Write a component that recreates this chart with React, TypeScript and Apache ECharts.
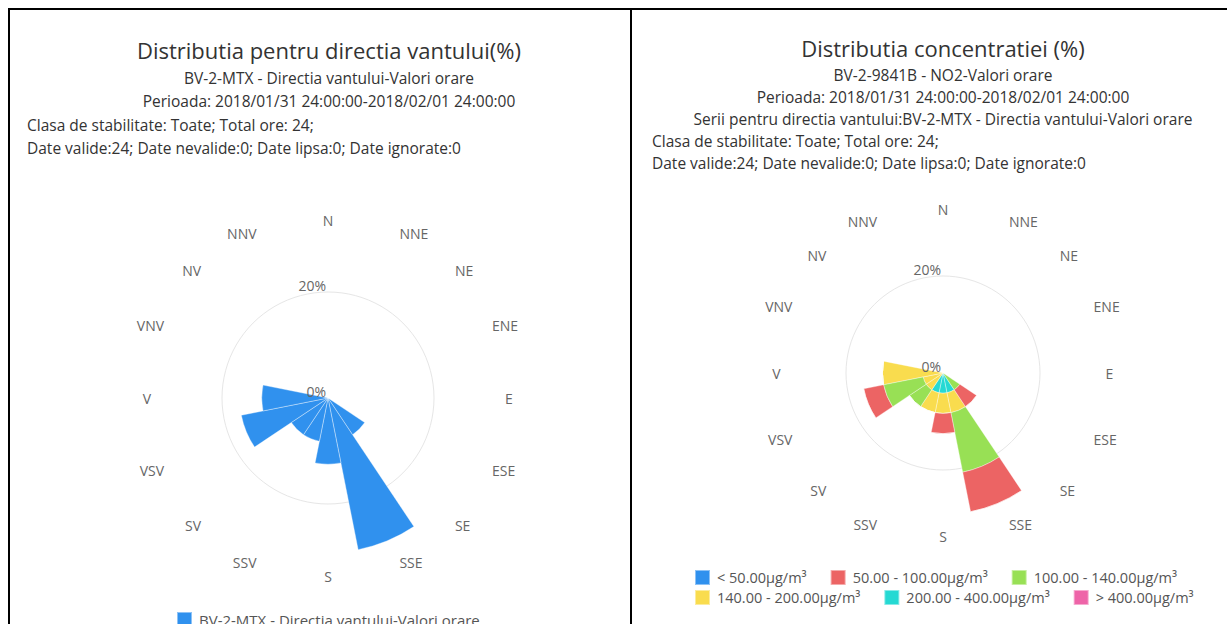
import React, { useEffect, useRef } from 'react';
import * as echarts from 'echarts';

// ---------- data ----------
const directions = ['N', 'NNE', 'NE', 'ENE', 'E', 'ESE', 'SE', 'SSE', 'S', 'SSV', 'SV', 'VSV', 'V', 'VNV', 'NV', 'NNV'];

const windSeriesName = 'BV-2-MTX - Directia vantului-Valori orare';
const windFreq = [0, 0, 0, 0, 0, 0, 8.33, 29.17, 12.5, 8.33, 8.33, 16.67, 12.5, 0, 0, 0];

const concClasses = [
  '< 50.00µg/m³',
  '50.00 - 100.00µg/m³',
  '100.00 - 140.00µg/m³',
  '140.00 - 200.00µg/m³',
  '200.00 - 400.00µg/m³',
  '> 400.00µg/m³',
];
const concLt50 = [0, 0, 0, 0, 0, 0, 0, 0, 0, 0, 0, 0, 0, 0, 0, 0];
const conc50to100 = [0, 0, 0, 0, 0, 0, 4.17, 8.33, 4.17, 0, 0, 4.17, 0, 0, 0, 0];
const conc100to140 = [0, 0, 0, 0, 0, 0, 4.17, 12.5, 0, 0, 4.17, 8.33, 0, 0, 0, 0];
const conc140to200 = [0, 0, 0, 0, 0, 0, 0, 4.17, 4.17, 4.17, 4.17, 4.17, 12.5, 0, 0, 0];
const conc200to400 = [0, 0, 0, 0, 0, 0, 0, 4.17, 4.17, 4.17, 0, 0, 0, 0, 0, 0];
const concGt400 = [0, 0, 0, 0, 0, 0, 0, 0, 0, 0, 0, 0, 0, 0, 0, 0];

const radiusTickLabels: Record<number, string> = { 0: '0%', 20: '20%' };

const leftTitle = 'Distributia pentru directia vantului(%)';
const leftCenteredLines = ['BV-2-MTX - Directia vantului-Valori orare', 'Perioada: 2018/01/31 24:00:00-2018/02/01 24:00:00'];
const leftLeftLines = ['Clasa de stabilitate: Toate; Total ore: 24;', 'Date valide:24; Date nevalide:0; Date lipsa:0; Date ignorate:0'];

const rightTitle = 'Distributia concentratiei (%)';
const rightCenteredLines = [
  'BV-2-9841B - NO2-Valori orare',
  'Perioada: 2018/01/31 24:00:00-2018/02/01 24:00:00',
  'Serii pentru directia vantului:BV-2-MTX - Directia vantului-Valori orare',
];
const rightLeftLines = ['Clasa de stabilitate: Toate; Total ore: 24;', 'Date valide:24; Date nevalide:0; Date lipsa:0; Date ignorate:0'];

// ---------- style ----------
const FONT = "'Open Sans', 'Noto Sans', sans-serif";
const WIND_COLOR = '#3091ee';
const CONC_COLORS = ['#3091ee', '#ec6464', '#98e055', '#f9dc4e', '#25d9d3', '#ee64a8'];
const TITLE_SIZE = 22;
const SUB_SIZE = 15.5;
const R_MAX = 30;
const R_INTERVAL = 20;

function titleItem(text: string, x: number, y: number, size: number, align: 'left' | 'center') {
  return {
    text,
    left: x,
    top: y,
    textAlign: align,
    padding: 0,
    textStyle: { fontFamily: FONT, fontSize: size, fontWeight: 'normal', color: '#333' },
  };
}

// angle axis carrying the bars and the direction labels
function angleAxis(polarIndex: number, margin: number) {
  return {
    polarIndex,
    type: 'category',
    data: directions,
    startAngle: 101.25,
    clockwise: true,
    boundaryGap: true,
    axisLine: { show: false },
    axisTick: { show: false },
    splitLine: { show: false },
    axisLabel: { margin, color: '#666', fontSize: 14, fontFamily: FONT, padding: [0, 6] },
  };
}

// radius axis carrying the bars and the 20% grid circle (behind the bars)
function radiusAxis(polarIndex: number) {
  return {
    polarIndex,
    type: 'value',
    min: 0,
    max: R_MAX,
    interval: R_INTERVAL,
    axisLine: { show: false },
    axisTick: { show: false },
    axisLabel: { show: false },
    splitLine: { show: true, lineStyle: { color: ['rgba(0,0,0,0)', '#e6e6e6', 'rgba(0,0,0,0)'], width: 1 } },
  };
}

// overlay axes (north-pointing radial axis) for the 0% / 20% labels, above the bars
function overlayAngleAxis(polarIndex: number) {
  return { polarIndex, type: 'value', min: 0, max: 360, startAngle: 90, show: false };
}
function overlayRadiusAxis(polarIndex: number) {
  return {
    polarIndex,
    type: 'value',
    min: 0,
    max: R_MAX,
    interval: R_INTERVAL,
    z: 10,
    axisLine: { show: false },
    axisTick: { show: false },
    splitLine: { show: false },
    axisLabel: {
      color: '#666',
      fontSize: 14,
      fontFamily: FONT,
      align: 'right',
      verticalAlign: 'bottom',
      margin: 2,
      formatter: (v: number) => radiusTickLabels[v] ?? '',
    },
  };
}

const barBorder = { borderColor: 'rgba(255,255,255,0.45)', borderWidth: 0.8 };

export default function App() {
  const ref = useRef<HTMLDivElement>(null);

  useEffect(() => {
    if (!ref.current) return;
    const chart = echarts.init(ref.current, undefined, { renderer: 'svg' });

    const concData = [concLt50, conc50to100, conc100to140, conc140to200, conc200to400, concGt400];
    // stacking: last class innermost (as in the reference)
    const concSeries = [5, 4, 3, 2, 1, 0].map((i) => ({
      type: 'bar',
      name: concClasses[i],
      coordinateSystem: 'polar',
      polarIndex: 1,
      stack: 'conc',
      barCategoryGap: '0%',
      data: concData[i],
      itemStyle: { color: CONC_COLORS[i], ...barBorder },
    }));

    const legendCommon = {
      padding: 0,
      icon: 'rect',
      itemWidth: 15,
      itemHeight: 15,
    };

    const leftCenter = [320, 390];
    const rightCenter = [935, 365];

    chart.setOption({
      animation: false,
      textStyle: { fontFamily: FONT },
      title: [
        titleItem(leftTitle, 321, 31, TITLE_SIZE, 'center'),
        titleItem(leftCenteredLines[0], 321, 62, SUB_SIZE, 'center'),
        titleItem(leftCenteredLines[1], 321, 85, SUB_SIZE, 'center'),
        titleItem(leftLeftLines[0], 19, 109, SUB_SIZE, 'left'),
        titleItem(leftLeftLines[1], 19, 132, SUB_SIZE, 'left'),
        titleItem(rightTitle, 935, 29, TITLE_SIZE, 'center'),
        titleItem(rightCenteredLines[0], 935, 59, SUB_SIZE, 'center'),
        titleItem(rightCenteredLines[1], 935, 81, SUB_SIZE, 'center'),
        titleItem(rightCenteredLines[2], 935, 103, SUB_SIZE, 'center'),
        titleItem(rightLeftLines[0], 644, 125, SUB_SIZE, 'left'),
        titleItem(rightLeftLines[1], 644, 147, SUB_SIZE, 'left'),
      ],
      polar: [
        { center: leftCenter, radius: 159 },
        { center: rightCenter, radius: 145.5 },
        { center: leftCenter, radius: 159 },
        { center: rightCenter, radius: 145.5 },
      ],
      angleAxis: [angleAxis(0, 12), angleAxis(1, 11), overlayAngleAxis(2), overlayAngleAxis(3)],
      radiusAxis: [radiusAxis(0), radiusAxis(1), overlayRadiusAxis(2), overlayRadiusAxis(3)],
      legend: [
        {
          ...legendCommon,
          data: [windSeriesName],
          left: 168,
          top: 603,
          textStyle: { fontFamily: FONT, fontSize: 15, color: '#555', padding: [0, 0, 0, 2] },
        },
        {
          ...legendCommon,
          data: concClasses.slice(0, 3),
          left: 686,
          top: 561,
          itemGap: 23,
          textStyle: { fontFamily: FONT, fontSize: 14.5, color: '#555', padding: [0, 0, 0, 2] },
        },
        {
          ...legendCommon,
          data: concClasses.slice(3),
          left: 686,
          top: 581,
          itemGap: 23,
          textStyle: { fontFamily: FONT, fontSize: 14.5, color: '#555', padding: [0, 0, 0, 2] },
        },
      ],
      series: [
        {
          type: 'bar',
          name: windSeriesName,
          coordinateSystem: 'polar',
          polarIndex: 0,
          barCategoryGap: '0%',
          data: windFreq,
          itemStyle: { color: WIND_COLOR, ...barBorder },
        },
        ...concSeries,
      ],
      graphic: [
        { type: 'line', shape: { x1: 0, y1: 1, x2: 1219, y2: 1 }, style: { stroke: '#000', lineWidth: 2 } },
        { type: 'line', shape: { x1: 1, y1: 0, x2: 1, y2: 616 }, style: { stroke: '#000', lineWidth: 2 } },
        { type: 'line', shape: { x1: 623, y1: 0, x2: 623, y2: 616 }, style: { stroke: '#000', lineWidth: 2 } },
      ],
    });

    return () => chart.dispose();
  }, []);

  return (
    <div
      ref={ref}
      style={{ position: 'fixed', left: 8, top: 8, width: 1219, height: 616, background: '#fff' }}
    />
  );
}
